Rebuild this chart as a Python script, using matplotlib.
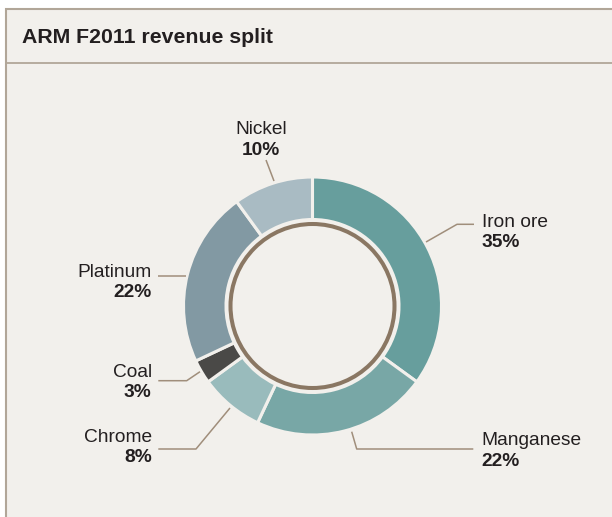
import matplotlib
matplotlib.use('Agg')
import matplotlib.pyplot as plt
from matplotlib.patches import Circle, Rectangle

# ---- data ----
categories = ['Iron ore', 'Manganese', 'Chrome', 'Coal', 'Platinum', 'Nickel']
shares = [35, 22, 8, 3, 22, 10]
colors = ['#679e9d', '#78a7a6', '#99bbbc', '#4a4947', '#8299a3', '#a9bbc3']
title = 'ARM F2011 revenue split'

# ---- layout (pixel coords, y measured from top) ----
W, H = 612, 517
BG = '#f2f0ec'
BORDER = '#b1a698'
TXT = '#231f20'
LEAD = '#a08e7b'
cx, cy = 312.5, 306.0

label_layout = {
    # name: (x, baseline_y, ha, leader points)
    'Iron ore': (481.5, 226.7, 'left', [(426, 242), (457, 224.3), (474, 224.3)]),
    'Manganese': (481.0, 445.0, 'left', [(351.7, 431.7), (356.7, 449), (473.3, 449)]),
    'Chrome': (151.7, 441.7, 'right', [(230, 408), (196, 449), (158.3, 449)]),
    'Coal': (151.7, 376.7, 'right', [(200, 371.7), (186.7, 380.7), (158.3, 380.7)]),
    'Platinum': (151.7, 276.7, 'right', [(186, 276), (158.3, 276)]),
    'Nickel': (261.0, 134.3, 'center', [(274, 181), (266, 160)]),
}

def Y(y):
    return H - y

plt.rcParams['font.family'] = ['Liberation Sans', 'DejaVu Sans']

fig = plt.figure(figsize=(W / 100, H / 100), dpi=100)
fig.patch.set_facecolor('white')
ax = fig.add_axes([0, 0, 1, 1])

# panel
ax.add_patch(Rectangle((6, Y(700)), 700, 700 - 9, facecolor=BG, edgecolor=BORDER,
                       linewidth=1.5, zorder=0))
ax.plot([6, 620], [Y(63), Y(63)], color=BORDER, lw=1.3, zorder=1)
ax.text(22, Y(43.3), title, fontsize=15.3, fontweight='bold', color=TXT,
        ha='left', va='baseline')

# donut
R_out = 129.0
R_in = 86.5
ax.pie(shares, colors=colors, startangle=90, counterclock=False,
       radius=R_out, center=(cx, Y(cy)),
       wedgeprops=dict(width=R_out - R_in, edgecolor=BG, linewidth=2.2))
ax.add_patch(Circle((cx, Y(cy)), 82, fill=False, edgecolor='#8a7763', linewidth=2.9, zorder=3))

# labels
for name, val in zip(categories, shares):
    x, yb, ha, pts = label_layout[name]
    ax.text(x, Y(yb), name, fontsize=13.8, color=TXT, ha=ha, va='baseline')
    ax.text(x, Y(yb + 20.5), f'{val}%', fontsize=13.8, fontweight='bold', color=TXT,
            ha=ha, va='baseline')
    xs = [p[0] for p in pts]
    ys = [Y(p[1]) for p in pts]
    ax.plot(xs, ys, color=LEAD, lw=1.1, solid_capstyle='butt', zorder=2)

ax.set_xlim(0, W)
ax.set_ylim(0, H)
ax.set_aspect('equal')
ax.axis('off')

fig.savefig('out.png', dpi=100, facecolor='white')
